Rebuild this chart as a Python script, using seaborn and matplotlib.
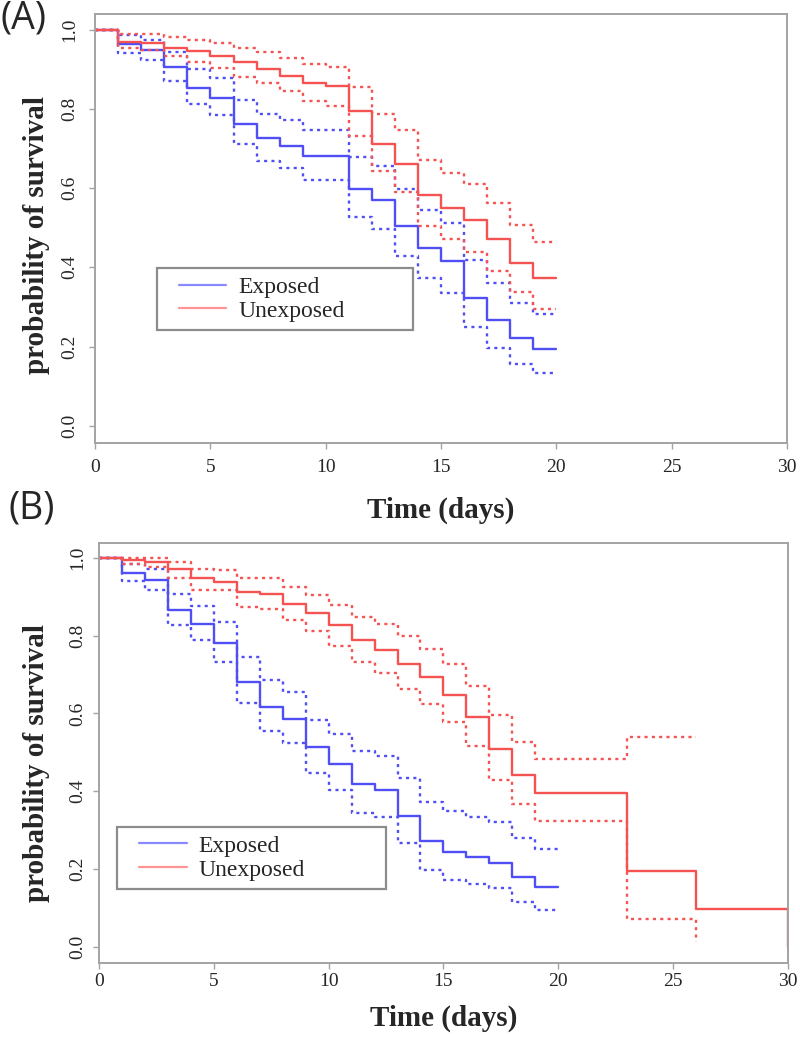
import matplotlib.pyplot as plt
import seaborn as sns
import pandas as pd
from matplotlib.lines import Line2D
from matplotlib.legend_handler import HandlerLine2D

groups = ['Exposed', 'Unexposed']

# (A) 両群とも20日目まで
a_days = [0, 1, 2, 3, 4, 5, 6, 7, 8, 9, 10, 11, 12, 13, 14, 15, 16, 17, 18, 19, 20]
a_exp_est = [1.0, 0.963, 0.950, 0.907, 0.853, 0.828, 0.763, 0.727, 0.707, 0.681, 0.681, 0.597, 0.569, 0.505, 0.450, 0.415,
             0.322, 0.267, 0.221, 0.193, 0.193]
a_exp_hi = [1.0, 0.987, 0.975, 0.945, 0.900, 0.878, 0.822, 0.788, 0.773, 0.748, 0.748, 0.679, 0.655, 0.597, 0.544, 0.511,
            0.418, 0.361, 0.311, 0.283, 0.283]
a_exp_lo = [1.0, 0.941, 0.924, 0.872, 0.813, 0.785, 0.712, 0.669, 0.651, 0.620, 0.620, 0.528, 0.497, 0.429, 0.374, 0.336,
            0.250, 0.197, 0.155, 0.133, 0.133]
a_unx_est = [1.0, 0.970, 0.967, 0.955, 0.946, 0.933, 0.919, 0.901, 0.884, 0.865, 0.857, 0.794, 0.711, 0.662, 0.583, 0.549,
             0.519, 0.471, 0.412, 0.374, 0.374]
a_unx_hi = [1.0, 0.989, 0.989, 0.983, 0.975, 0.966, 0.954, 0.943, 0.929, 0.913, 0.905, 0.855, 0.787, 0.748, 0.670, 0.639,
            0.611, 0.563, 0.506, 0.465, 0.465]
a_unx_lo = [1.0, 0.954, 0.950, 0.933, 0.920, 0.903, 0.882, 0.866, 0.845, 0.821, 0.808, 0.731, 0.643, 0.590, 0.504, 0.472,
            0.440, 0.391, 0.338, 0.296, 0.296]

# (B) 非曝露群は30日目まで
b_exp_days = [0, 1, 2, 3, 4, 5, 6, 7, 8, 9, 10, 11, 12, 13, 14, 15, 16, 17, 18, 19, 20]
b_exp_est = [1.0, 0.962, 0.942, 0.865, 0.829, 0.780, 0.681, 0.617, 0.585, 0.514, 0.469, 0.418, 0.403, 0.336, 0.272, 0.245,
             0.232, 0.217, 0.180, 0.155, 0.155]
b_exp_hi = [1.0, 0.985, 0.970, 0.908, 0.875, 0.835, 0.745, 0.685, 0.655, 0.583, 0.546, 0.504, 0.491, 0.435, 0.373, 0.350,
            0.335, 0.322, 0.279, 0.253, 0.253]
b_exp_lo = [1.0, 0.940, 0.917, 0.827, 0.788, 0.733, 0.626, 0.555, 0.523, 0.446, 0.403, 0.343, 0.335, 0.266, 0.198, 0.172,
            0.163, 0.151, 0.116, 0.095, 0.095]
b_unx_days = [0, 1, 2, 3, 4, 5, 6, 7, 8, 9, 10, 11, 12, 13, 14, 15, 16, 17, 18, 19, 23, 26, 30]
b_unx_est = [1.0, 0.995, 0.990, 0.970, 0.949, 0.938, 0.911, 0.906, 0.881, 0.858, 0.826, 0.788, 0.763, 0.728, 0.693, 0.647,
             0.590, 0.508, 0.442, 0.396, 0.196, 0.097, 0.0]
b_unx_ci_days = [0, 1, 2, 3, 4, 5, 6, 7, 8, 9, 10, 11, 12, 13, 14, 15, 16, 17, 18, 19, 23, 26]
b_unx_hi = [1.0, 1.0, 1.0, 0.989, 0.972, 0.968, 0.947, 0.947, 0.924, 0.904, 0.878, 0.848, 0.831, 0.800, 0.766, 0.728,
            0.670, 0.596, 0.527, 0.484, 0.540, 0.540]
b_unx_lo = [1.0, 0.985, 0.975, 0.949, 0.917, 0.917, 0.874, 0.868, 0.839, 0.811, 0.773, 0.733, 0.705, 0.664, 0.625, 0.577,
            0.516, 0.430, 0.367, 0.324, 0.071, 0.014]


def long_table(curves):
    rows = []
    for group, band, days, surv in curves:
        for d, s in zip(days, surv):
            rows.append({'day': d, 'surv': s, 'group': group, 'band': band})
    return pd.DataFrame(rows)


df_a = long_table([
    ('Exposed', 'est', a_days, a_exp_est), ('Exposed', 'upper', a_days, a_exp_hi), ('Exposed', 'lower', a_days, a_exp_lo),
    ('Unexposed', 'est', a_days, a_unx_est), ('Unexposed', 'upper', a_days, a_unx_hi), ('Unexposed', 'lower', a_days, a_unx_lo),
])
df_b = long_table([
    ('Exposed', 'est', b_exp_days, b_exp_est), ('Exposed', 'upper', b_exp_days, b_exp_hi),
    ('Exposed', 'lower', b_exp_days, b_exp_lo),
    ('Unexposed', 'est', b_unx_days, b_unx_est), ('Unexposed', 'upper', b_unx_ci_days, b_unx_hi),
    ('Unexposed', 'lower', b_unx_ci_days, b_unx_lo),
])

sns.set_style('ticks')
plt.rcParams['font.family'] = ['Liberation Serif', 'DejaVu Serif']

palette = {'Exposed': '#4f4ff5', 'Unexposed': '#f55252'}
dashes = {'est': '', 'upper': (1.3, 1.8), 'lower': (1.3, 1.8)}
legend_colors = ['#8a8aff', '#ff9494']
grey = '#a3a3a3'

fig = plt.figure(figsize=(8, 10.37), dpi=100)
ax_a = fig.add_axes([0.119, 0.5731, 0.8646, 0.4134])
ax_b = fig.add_axes([0.1238, 0.0714, 0.861, 0.405])

settings = [
    # ax, data, ylim, x tick pad, y tick pad, xlabel y, ylabel x, ylabel y, legend box
    (ax_a, df_a, (-0.043, 1.040), 8, 8, -0.1267, -0.0655, 0.4845, (0.089, 0.2535, 0.370, 0.154)),
    (ax_b, df_b, (-0.041, 1.038), 3, 5, -0.100, -0.0709, 0.476, (0.026, 0.169, 0.391, 0.155)),
]

for ax, df, ylim, xpad, ypad, xl_y, yl_x, yl_y, leg_box in settings:
    sns.lineplot(data=df, x='day', y='surv', hue='group', hue_order=groups, style='band',
                 style_order=['est', 'upper', 'lower'], dashes=dashes, palette=palette,
                 estimator=None, drawstyle='steps-post', linewidth=1.7, legend=False, ax=ax)
    ax.set_xlim(0, 30)
    ax.set_ylim(*ylim)
    ax.set_xticks([0, 5, 10, 15, 20, 25, 30])
    ax.set_yticks([0.0, 0.2, 0.4, 0.6, 0.8, 1.0])
    ax.set_yticklabels(['0.0', '0.2', '0.4', '0.6', '0.8', '1.0'])
    ax.tick_params(axis='both', direction='out', length=4, width=1, color=grey,
                   labelcolor='#262626', labelsize=14)
    ax.tick_params(axis='x', pad=xpad)
    ax.tick_params(axis='y', pad=ypad)
    plt.setp(ax.get_yticklabels(), rotation=90, va='center')
    for s in ax.spines.values():
        s.set_color(grey)
        s.set_linewidth(1.4)

    ax.set_xlabel('Time (days)', fontsize=21, fontweight='bold')
    ax.set_ylabel('probability of survival', fontsize=21, fontweight='bold')
    ax.xaxis.set_label_coords(0.5, xl_y)
    ax.yaxis.set_label_coords(yl_x, yl_y)

    # 凡例（線の前に余白をとる）
    handles = [Line2D([], [], color=c, lw=1.6) for c in legend_colors]
    leg = ax.legend(handles, groups, loc='upper left', bbox_to_anchor=leg_box, mode='expand',
                    borderaxespad=0, fancybox=False, framealpha=1, edgecolor='#8c8c8c',
                    fontsize=17, handlelength=2.6, handletextpad=0.5, borderpad=0.35,
                    labelspacing=0.1, handler_map={Line2D: HandlerLine2D(xpad=0.6)})
    leg.get_frame().set_linewidth(1.6)

fig.text(0.0, 1.0, '(A)', ha='left', va='top', fontsize=27, family='Open Sans')
fig.text(0.01, 0.5275, '(B)', ha='left', va='top', fontsize=27, family='Open Sans')

fig.savefig('out.png', dpi=100)
